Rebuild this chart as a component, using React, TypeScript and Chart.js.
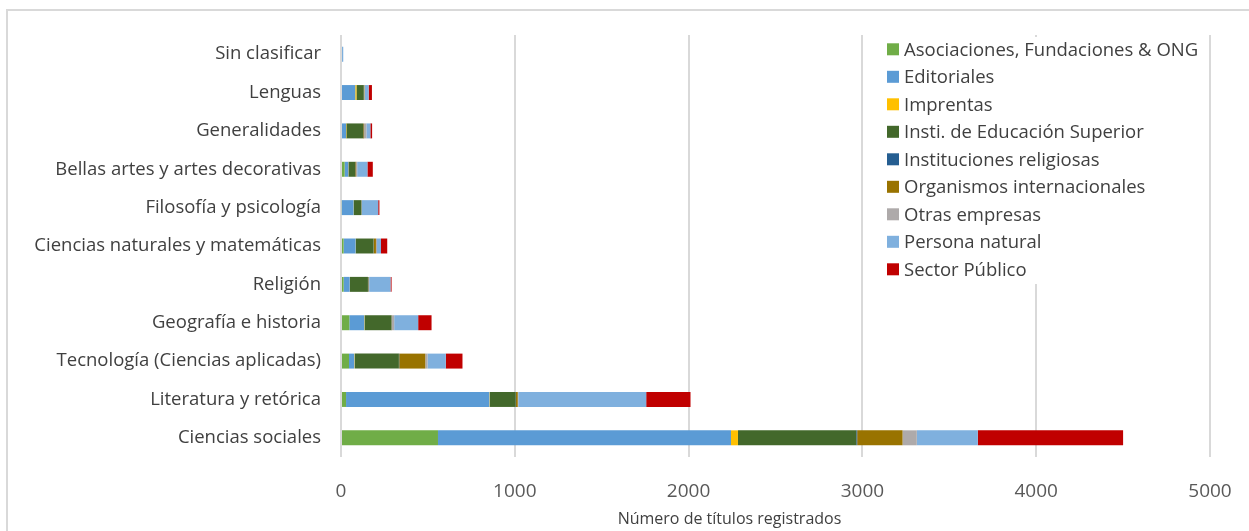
import React, { useEffect, useRef } from "react";
import { Chart, registerables } from "chart.js";

Chart.register(...registerables);

const categories = [
  "Sin clasificar",
  "Lenguas",
  "Generalidades",
  "Bellas artes y artes decorativas",
  "Filosofía y psicología",
  "Ciencias naturales y matemáticas",
  "Religión",
  "Geografía e historia",
  "Tecnología (Ciencias aplicadas)",
  "Literatura y retórica",
  "Ciencias sociales",
];

const seriesNames = [
  "Asociaciones, Fundaciones & ONG",
  "Editoriales",
  "Imprentas",
  "Insti. de Educación Superior",
  "Instituciones religiosas",
  "Organismos internacionales",
  "Otras empresas",
  "Persona natural",
  "Sector Público",
];

const asociaciones = [0, 0, 0, 21, 5, 15, 15, 48, 46, 29, 558];
const editoriales = [10, 82, 29, 21, 67, 69, 35, 86, 31, 825, 1686];
const imprentas = [0, 7, 2, 1, 1, 1, 1, 2, 3, 3, 40];
const instiEducacion = [0, 42, 96, 38, 44, 102, 104, 154, 253, 148, 681];
const religiosas = [0, 1, 1, 1, 1, 1, 2, 1, 2, 2, 5];
const organismos = [0, 2, 5, 5, 1, 13, 3, 2, 150, 10, 261];
const otrasEmpresas = [0, 2, 13, 6, 1, 6, 2, 13, 13, 3, 82];
const personaNatural = [3, 23, 23, 59, 94, 23, 123, 138, 105, 736, 351];
const sectorPublico = [0, 19, 10, 31, 7, 36, 6, 77, 96, 255, 836];

const xTicks = [0, 1000, 2000, 3000, 4000, 5000];
const xTitle = "Número de títulos registrados";

const colors = [
  "#70AD47",
  "#5B9BD5",
  "#FFC000",
  "#43682B",
  "#255E91",
  "#997300",
  "#AEAAAA",
  "#7FB0DE",
  "#C00000",
];

const seriesValues = [
  asociaciones,
  editoriales,
  imprentas,
  instiEducacion,
  religiosas,
  organismos,
  otrasEmpresas,
  personaNatural,
  sectorPublico,
];

const FONT = "'Open Sans', 'Noto Sans', sans-serif";

const legendPlugin = {
  id: "customLegend",
  afterDraw(chart: any) {
    const ctx = chart.ctx;
    ctx.save();
    ctx.fillStyle = "#ffffff";
    ctx.fillRect(875, 37, 330, 247);
    ctx.font = `18.5px ${FONT}`;
    ctx.textBaseline = "middle";
    ctx.textAlign = "left";
    chart.data.datasets.forEach((ds: any, i: number) => {
      const cy = 49.3 + 27.5 * i;
      ctx.fillStyle = ds.backgroundColor;
      ctx.fillRect(887, cy - 6, 12, 12);
      ctx.fillStyle = "#404040";
      ctx.fillText(ds.label, 904, cy + 1);
    });
    ctx.font = `16px ${FONT}`;
    ctx.textAlign = "center";
    ctx.fillStyle = "#404040";
    ctx.fillText(xTitle, 729.5, 519);
    ctx.restore();
  },
};

export default function App() {
  const canvasRef = useRef<HTMLCanvasElement | null>(null);

  useEffect(() => {
    document.body.style.margin = "0";
    const canvas = canvasRef.current;
    if (!canvas) return;
    const chart = new Chart(canvas, {
      type: "bar",
      data: {
        labels: categories,
        datasets: seriesNames.map((name, i) => ({
          label: name,
          data: seriesValues[i],
          backgroundColor: colors[i],
          borderWidth: 0,
          barPercentage: 0.39,
          categoryPercentage: 1,
        })),
      },
      options: {
        indexAxis: "y",
        responsive: false,
        animation: false,
        devicePixelRatio: 1,
        layout: { padding: { left: 0, top: 35, right: 39, bottom: 0 } },
        plugins: {
          legend: { display: false },
          tooltip: { enabled: false },
        },
        scales: {
          x: {
            stacked: true,
            min: 0,
            max: 5000,
            afterBuildTicks(scale: any) {
              scale.ticks = xTicks.map((v) => ({ value: v }));
            },
            afterFit(scale: any) {
              scale.height = 74;
              scale.paddingLeft = 0;
              scale.paddingRight = 0;
            },
            grid: {
              color: "#D9D9D9",
              lineWidth: 2,
              drawTicks: false,
            },
            border: { display: false },
            ticks: {
              padding: 23,
              color: "#595959",
              font: { family: FONT, size: 19 },
              callback: (v: any) => String(v),
            },
          },
          y: {
            stacked: true,
            afterFit(scale: any) {
              scale.width = 341;
            },
            grid: { display: false, drawTicks: false },
            border: { display: false },
            ticks: {
              padding: 20,
              color: "#404040",
              font: { family: FONT, size: 18.5 },
            },
          },
        },
      },
      plugins: [legendPlugin],
    } as any);
    return () => chart.destroy();
  }, []);

  return (
    <div style={{ position: "relative", width: 1249, height: 531, overflow: "hidden", background: "#fff" }}>
      <div
        style={{
          position: "absolute",
          left: 6,
          top: 9,
          width: 1400,
          height: 700,
          border: "2px solid #D9D9D9",
          boxSizing: "border-box",
        }}
      />
      <canvas
        ref={canvasRef}
        width={1249}
        height={531}
        style={{ position: "absolute", left: 0, top: 0, width: 1249, height: 531 }}
      />
    </div>
  );
}
